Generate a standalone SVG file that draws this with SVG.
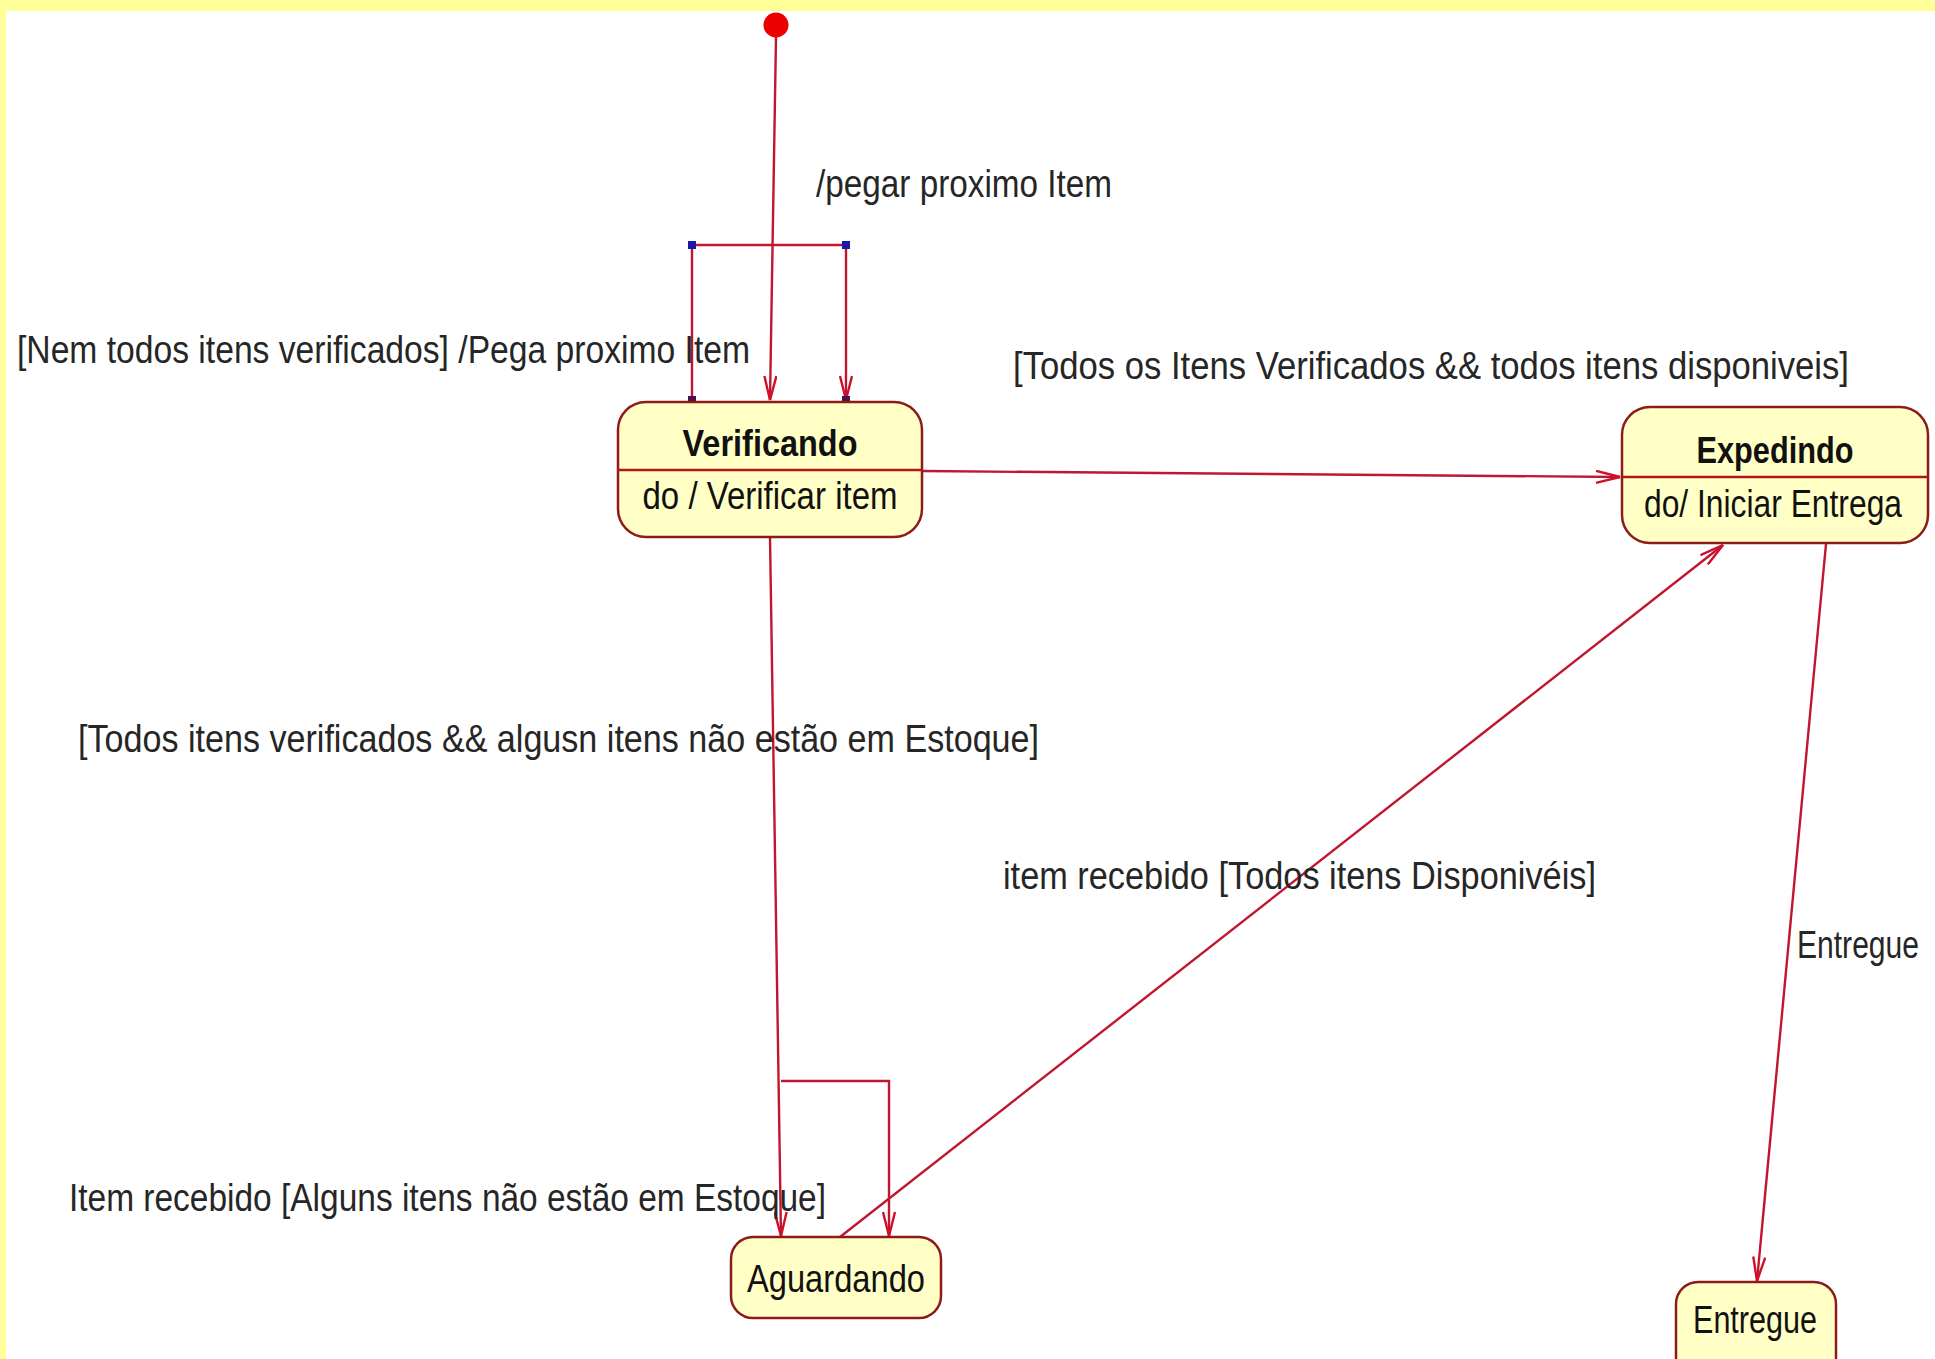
<svg xmlns="http://www.w3.org/2000/svg" width="1935" height="1359" viewBox="0 0 1935 1359">
<style>
.lbl{font-family:"Liberation Sans",Arial,sans-serif;font-size:38px;fill:#262626}
.nt{font-family:"Liberation Sans",Arial,sans-serif;font-size:38px;fill:#111}
.nb{font-family:"Liberation Sans",Arial,sans-serif;font-size:37px;font-weight:bold;fill:#111}
.node{fill:#ffffc6;stroke:#8e1b1b;stroke-width:2.5}
.div{stroke:#b01818;stroke-width:2.5}
.edge{fill:none;stroke:#c01630;stroke-width:2.4}
</style>
<defs>
<marker id="arr" viewBox="0 0 26 14" refX="25" refY="7" markerWidth="26" markerHeight="14" markerUnits="userSpaceOnUse" orient="auto">
<path d="M1,1 L25,7 L1,13" fill="none" stroke="#d0102a" stroke-width="2.4"/>
</marker>
</defs>
<rect x="0" y="0" width="1935" height="1359" fill="#ffffff"/>
<rect x="0" y="0" width="1935" height="11" fill="#ffff99"/>
<rect x="0" y="0" width="6" height="1359" fill="#ffff99"/>

<g id="initial">
<circle cx="776" cy="25" r="12.5" fill="#ee0000"/>
</g>

<g id="connectors">
<path class="edge" d="M776,37 L770,400" marker-end="url(#arr)"/>
<path class="edge" d="M692,400 L692,245 L846,245 L846,400" marker-end="url(#arr)"/>
<path class="edge" d="M922,471 L1620,477" marker-end="url(#arr)"/>
<path class="edge" d="M770,537 L781,1236" stroke="#e0101a" stroke-width="3" marker-end="url(#arr)"/>
<path class="edge" d="M781,1081 L889,1081 L889,1236" marker-end="url(#arr)"/>
<path class="edge" d="M840,1237 L1723,545" marker-end="url(#arr)"/>
<path class="edge" d="M1826,544 L1757,1281" marker-end="url(#arr)"/>
<rect x="688" y="241" width="8" height="8" fill="#1a1aa8"/>
<rect x="842" y="241" width="8" height="8" fill="#1a1aa8"/>
<rect x="688" y="396" width="8" height="8" fill="#4a1050"/>
<rect x="842" y="396" width="8" height="8" fill="#4a1050"/>
</g>

<g id="verificando">
<rect class="node" x="618" y="402" width="304" height="135" rx="28" ry="28"/>
<line class="div" x1="618" y1="470" x2="922" y2="470"/>
<text class="nb" x="770" y="456" text-anchor="middle" textLength="175" lengthAdjust="spacingAndGlyphs">Verificando</text>
<text class="nt" x="770" y="509" text-anchor="middle" textLength="255" lengthAdjust="spacingAndGlyphs">do / Verificar item</text>
</g>

<g id="expedindo">
<rect class="node" x="1622" y="407" width="306" height="136" rx="28" ry="28"/>
<line class="div" x1="1622" y1="477" x2="1928" y2="477"/>
<text class="nb" x="1775" y="463" text-anchor="middle" textLength="157" lengthAdjust="spacingAndGlyphs">Expedindo</text>
<text class="nt" x="1773" y="517" text-anchor="middle" textLength="258" lengthAdjust="spacingAndGlyphs">do/ Iniciar Entrega</text>
</g>

<g id="aguardando">
<rect class="node" x="731" y="1237" width="210" height="81" rx="22" ry="22"/>
<text class="nt" x="836" y="1292" text-anchor="middle" textLength="178" lengthAdjust="spacingAndGlyphs">Aguardando</text>
</g>

<g id="entregue">
<rect class="node" x="1676" y="1282" width="160" height="110" rx="22" ry="22"/>
<text class="nt" x="1755" y="1333" text-anchor="middle" textLength="124" lengthAdjust="spacingAndGlyphs">Entregue</text>
</g>

<g id="labels">
<text class="lbl" x="816" y="197" textLength="296" lengthAdjust="spacingAndGlyphs">/pegar proximo Item</text>
<text class="lbl" x="17" y="363" textLength="733" lengthAdjust="spacingAndGlyphs">[Nem todos itens verificados] /Pega proximo Item</text>
<text class="lbl" x="1013" y="379" textLength="836" lengthAdjust="spacingAndGlyphs">[Todos os Itens Verificados &amp;&amp; todos itens disponiveis]</text>
<text class="lbl" x="78" y="752" textLength="961" lengthAdjust="spacingAndGlyphs">[Todos itens verificados &amp;&amp; algusn itens não estão em Estoque]</text>
<text class="lbl" x="1003" y="889" textLength="593" lengthAdjust="spacingAndGlyphs">item recebido [Todos itens Disponivéis]</text>
<text class="lbl" x="1797" y="958" textLength="122" lengthAdjust="spacingAndGlyphs">Entregue</text>
<text class="lbl" x="69" y="1211" textLength="757" lengthAdjust="spacingAndGlyphs">Item recebido [Alguns itens não estão em Estoque]</text>
</g>
</svg>
